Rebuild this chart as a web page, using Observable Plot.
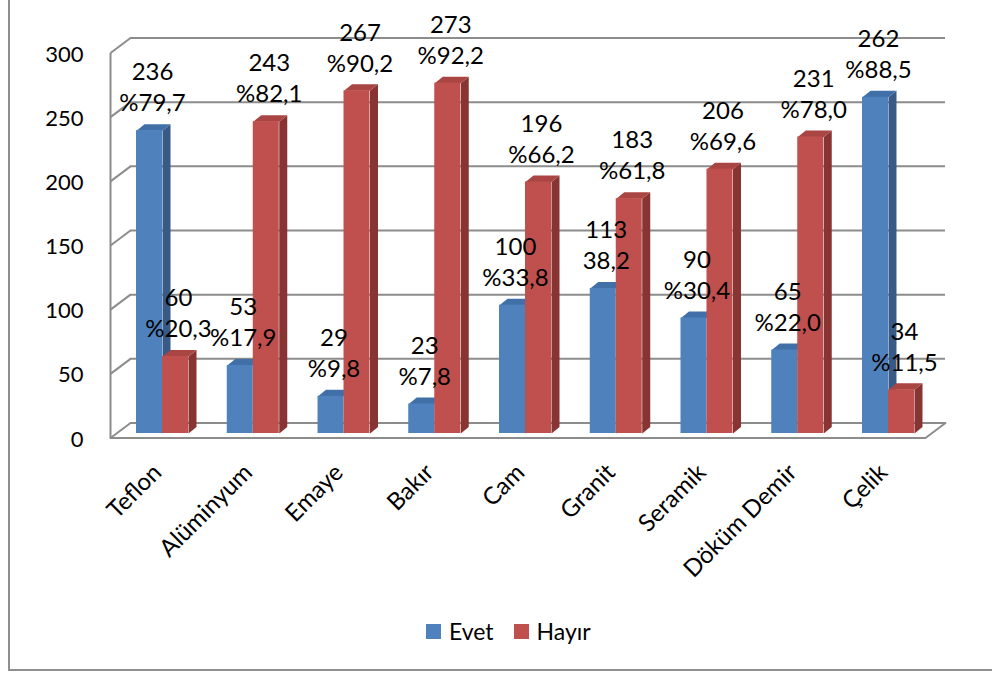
<!DOCTYPE html>
<html>
<head>
<meta charset="utf-8">
<script src="https://cdn.jsdelivr.net/npm/d3@7"></script>
<script src="https://cdn.jsdelivr.net/npm/@observablehq/plot@0.6"></script>
<style>
  html, body { margin: 0; padding: 0; background: #fff; }
  #wrap { position: relative; width: 992px; height: 673px; overflow: hidden; font-family: Lato, sans-serif; }
  #frame { position: absolute; left: 8px; top: -10px; width: 1000px; height: 681px; box-sizing: border-box; border: 2px solid #8f8f8f; }
  #chart { position: absolute; left: 0; top: 0; }
  #legend { position: absolute; top: 617px; left: 426px; display: flex; align-items: center; font-size: 23px; color: #000; }
  .sw { width: 15px; height: 15px; display: inline-block; margin-right: 8px; }
  .item { display: flex; align-items: center; margin-right: 20px; }
</style>
</head>
<body>
<div id="wrap">
  <div id="frame"></div>
  <div id="chart"></div>
  <div id="legend"></div>
</div>
<script>
const categories = ["Teflon", "Alüminyum", "Emaye", "Bakır", "Cam", "Granit", "Seramik", "Döküm Demir", "Çelik"];
const seriesNames = ["Evet", "Hayır"];
const evet = [236, 53, 29, 23, 100, 113, 90, 65, 262];
const hayir = [60, 243, 267, 273, 196, 183, 206, 231, 34];
const evetPct = ["%79,7", "%17,9", "%9,8", "%7,8", "%33,8", "38,2", "%30,4", "%22,0", "%88,5"];
const hayirPct = ["%20,3", "%82,1", "%90,2", "%92,2", "%66,2", "%61,8", "%69,6", "%78,0", "%11,5"];
const yTicks = [0, 50, 100, 150, 200, 250, 300];

const palette = {
  "Evet":  {front: "#4f81bd", top: "#4170a8", side: "#375a86"},
  "Hayır": {front: "#c0504d", top: "#a94542", side: "#873432"}
};

// geometry helpers (pixel -> data units)
const W = 992, H = 600;
const mL = 116, mR = 61, mT = 48, mB = 167;
const xDomain = [-0.507, 8.474];
const yDomain = [0, 300];
const kx = (W - mL - mR) / (xDomain[1] - xDomain[0]);
const ky = (H - mT - mB) / (yDomain[1] - yDomain[0]);
const px = p => p / kx, py = p => p / ky;
const barW = px(26);
const ox = px(8), oy = py(6.5);          // bar depth
const fX = px(-6), fY = py(-4.5);        // front plane offset
const bX = px(14), bY = py(10.5);        // back wall offset
const x0 = xDomain[0], xEnd = xDomain[1];

const bars = [];
categories.forEach((c, i) => {
  bars.push({cat: c, s: "Evet", v: evet[i], pct: evetPct[i], x1: i - barW, x2: i});
  bars.push({cat: c, s: "Hayır", v: hayir[i], pct: hayirPct[i], x1: i, x2: i + barW});
});

function faces(s) {
  const side = [], top = [];
  bars.filter(b => b.s === s).forEach((b, k) => {
    const id = s + k;
    side.push({id, x: b.x2, y: 0}, {id, x: b.x2, y: b.v}, {id, x: b.x2 + ox, y: b.v + oy}, {id, x: b.x2 + ox, y: oy});
    top.push({id, x: b.x1, y: b.v}, {id, x: b.x2, y: b.v}, {id, x: b.x2 + ox, y: b.v + oy}, {id, x: b.x1 + ox, y: b.v + oy});
  });
  return {side, top};
}

const grid = "#8c8c8c";
const marks = [
  // back wall gridlines
  Plot.ruleY(yTicks, {y: d => d, dx: 14, dy: -10.5, stroke: grid, strokeWidth: 2}),
  // left wall diagonals
  Plot.link(yTicks, {x1: () => x0 + fX, y1: d => d + fY, x2: () => x0 + bX, y2: d => d + bY, stroke: grid, strokeWidth: 2}),
  // front vertical edge
  Plot.link([0], {x1: () => x0 + fX, y1: () => yDomain[0] + fY, x2: () => x0 + fX, y2: () => yDomain[1] + fY, stroke: grid, strokeWidth: 2}),
  // floor front edge and right diagonal
  Plot.line([
    {x: x0 + fX, y: fY}, {x: xEnd + fX, y: fY}, {x: xEnd + bX, y: bY}
  ], {x: "x", y: "y", stroke: grid, strokeWidth: 2}),
  // y tick labels
  Plot.text(yTicks, {x: () => x0, y: d => d, text: d => String(d), textAnchor: "end", dx: -33, dy: 6, fontSize: 22, fill: "#000"})
];

seriesNames.forEach(s => {
  const f = faces(s);
  marks.push(
    Plot.line(f.side, {x: "x", y: "y", z: "id", fill: palette[s].side, stroke: "none"}),
    Plot.line(f.top, {x: "x", y: "y", z: "id", fill: palette[s].top, stroke: "none"}),
    Plot.rect(bars.filter(b => b.s === s), {x1: "x1", x2: "x2", y1: () => 0, y2: "v", fill: palette[s].front})
  );
});

// value labels
marks.push(
  Plot.text(bars, {x: b => (b.x1 + b.x2) / 2, y: "v", text: b => String(b.v), dx: 3, dy: -58, fontSize: 24, fill: "#000"}),
  Plot.text(bars, {x: b => (b.x1 + b.x2) / 2, y: "v", text: "pct", dx: 3, dy: -27, fontSize: 24, fill: "#000"})
);

// category labels
marks.push(
  Plot.text(categories, {x: (d, i) => i, y: () => 0, text: d => d, rotate: -45, textAnchor: "end", dx: -5, dy: 35, fontSize: 24, fill: "#000"})
);

const chart = Plot.plot({
  width: W, height: H,
  marginLeft: mL, marginRight: mR, marginTop: mT, marginBottom: mB,
  x: {type: "linear", domain: xDomain, axis: null},
  y: {type: "linear", domain: yDomain, axis: null},
  style: {fontFamily: "Lato, sans-serif", background: "transparent", overflow: "visible", color: "#000"},
  marks
});
document.getElementById("chart").appendChild(chart);

const legend = document.getElementById("legend");
seriesNames.forEach(s => {
  const it = document.createElement("div");
  it.className = "item";
  const sw = document.createElement("span");
  sw.className = "sw";
  sw.style.background = palette[s].front;
  it.appendChild(sw);
  it.appendChild(document.createTextNode(s));
  legend.appendChild(it);
});
</script>
</body>
</html>
